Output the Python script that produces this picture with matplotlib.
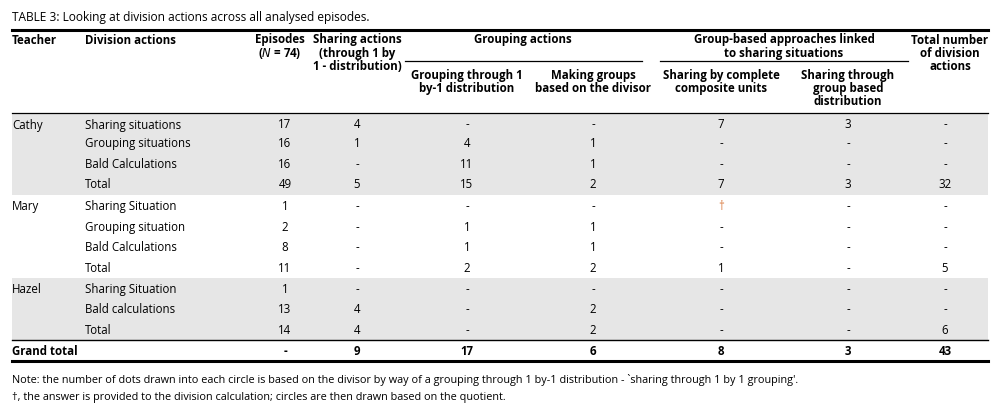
import matplotlib
matplotlib.use("Agg")
import matplotlib.pyplot as plt

fam = ["Liberation Sans Narrow", "Open Sans", "DejaVu Sans"]
plt.rcParams['font.family'] = fam

title = "TABLE 3: Looking at division actions across all analysed episodes."
teachers = ["Cathy", "", "", "", "Mary", "", "", "", "Hazel", "", ""]
actions = ["Sharing situations", "Grouping situations", "Bald Calculations", "Total",
           "Sharing Situation", "Grouping situation", "Bald Calculations", "Total",
           "Sharing Situation", "Bald calculations", "Total"]
episodes = ["17", "16", "16", "49", "1", "2", "8", "11", "1", "13", "14"]
sharing = ["4", "1", "-", "5", "-", "-", "-", "-", "-", "4", "4"]
grouping1 = ["-", "4", "11", "15", "-", "1", "1", "2", "-", "-", "-"]
making = ["-", "1", "1", "2", "-", "1", "1", "2", "-", "2", "2"]
complete = ["7", "-", "-", "7", "†", "-", "-", "1", "-", "-", "-"]
groupdist = ["3", "-", "-", "3", "-", "-", "-", "-", "-", "-", "-"]
totals = ["-", "-", "-", "32", "-", "-", "-", "5", "-", "-", "6"]
grand = ["Grand total", "-", "9", "17", "6", "8", "3", "43"]
notes = ["Note: the number of dots drawn into each circle is based on the divisor by way of a grouping through 1 by-1 distribution - `sharing through 1 by 1 grouping'.",
         "†, the answer is provided to the division calculation; circles are then drawn based on the quotient."]

fig = plt.figure(figsize=(10, 4.1), dpi=100)
ax = fig.add_axes([0, 0, 1, 1])
ax.set_xlim(0, 1000); ax.set_ylim(410, 0); ax.axis("off")
fs = 8.3
L, R = 12, 988

def head(x, y0, lines, ha="center"):
    for k, s in enumerate(lines):
        ax.text(x, y0 + 13.3 * k, s, fontsize=fs, fontweight="bold", va="center", ha=ha)

ax.text(L, 17, title, fontsize=fs + 0.3, va="center")
ax.plot([L, R], [31, 31], color="black", lw=2.2)
head(L, 40, ["Teacher"], ha="left")
head(85, 40, ["Division actions"], ha="left")
head(280, 40, ["Episodes", "($N$ = 74)"])
head(357, 40, ["Sharing actions", "(through 1 by", "1 - distribution)"])
head(523, 40, ["Grouping actions"])
ax.plot([405, 642], [62, 62], color="black", lw=0.9)
head(784, 40, ["Group-based approaches linked", "to sharing situations"])
ax.plot([660, 908], [62, 62], color="black", lw=0.9)
head(950, 40, ["Total number", "of division", "actions"])
head(467, 75, ["Grouping through 1", "by-1 distribution"])
head(593, 75, ["Making groups", "based on the divisor"])
head(721, 75, ["Sharing by complete", "composite units"])
head(848, 75, ["Sharing through", "group based", "distribution"])
ax.plot([L, R], [114, 114], color="black", lw=0.9)

ax.add_patch(plt.Rectangle((L, 115), R - L, 81, color="#e6e6e6", lw=0))
ax.add_patch(plt.Rectangle((L, 279), R - L, 62, color="#e6e6e6", lw=0))

ys = [125, 144, 165, 185, 207, 228, 248, 269, 290, 310, 331]
xs = [285, 357, 467, 593, 721, 848, 945]
for i, y in enumerate(ys):
    ax.text(L, y, teachers[i], fontsize=fs, va="center")
    ax.text(85, y, actions[i], fontsize=fs, va="center")
    for x, col in zip(xs, [episodes, sharing, grouping1, making, complete, groupdist, totals]):
        v = col[i]
        ax.text(x, y, v, fontsize=fs, va="center", ha="center",
                color="#d9773a" if v == "†" else "black")
ax.plot([L, R], [341, 341], color="black", lw=1.0)
ax.text(L, 352, grand[0], fontsize=fs, fontweight="bold", va="center")
for x, v in zip(xs, grand[1:]):
    ax.text(x, 352, v, fontsize=fs, fontweight="bold", va="center", ha="center")
ax.plot([L, R], [362, 362], color="black", lw=2.2)
ax.text(L, 380, notes[0], fontsize=fs - 0.5, va="center")
ax.text(L, 398, notes[1], fontsize=fs - 0.5, va="center")

fig.savefig("out.png", dpi=100)
